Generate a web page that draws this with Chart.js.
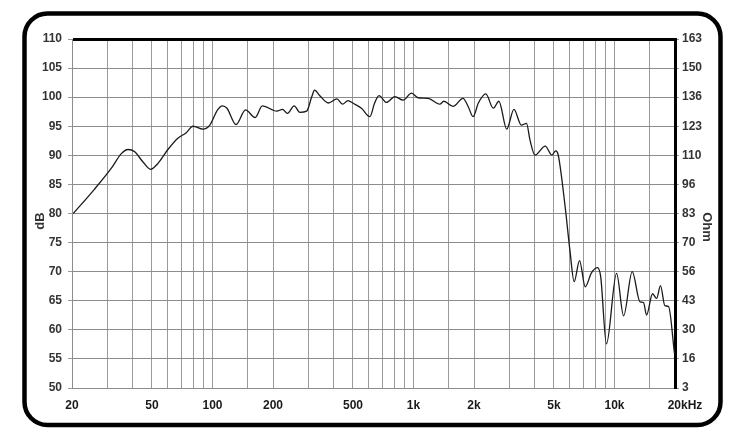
<!DOCTYPE html>
<html>
<head>
<meta charset="utf-8">
<script src="https://cdn.jsdelivr.net/npm/chart.js@4/dist/chart.umd.min.js"></script>
<style>
  html, body { margin: 0; padding: 0; background: #fff; }
  #wrap { width: 747px; height: 445px; position: relative; }
</style>
</head>
<body>
<div id="wrap"><canvas id="frChart"></canvas></div>
<script>
// ===== DATOS =====
const freqHz = [20.3, 25.9, 31.4, 35.2, 38, 41, 45, 49.2, 53.5, 60, 67, 74, 80, 89.6, 97, 106, 112, 118, 131, 146,
  163, 177, 209, 223, 236, 255, 272, 294, 312, 322, 342, 377, 416, 444, 472, 501, 551, 607, 640, 674,
  734, 808, 888, 978, 1054, 1182, 1352, 1415, 1572, 1764, 1870, 1980, 2100, 2290, 2495, 2660, 2910, 3160,
  3440, 3650, 3800, 4020, 4520, 4880, 5100, 5250, 5680, 6000, 6300, 6700, 7150, 7680, 8230, 8540, 9120,
  10240, 11100, 12250, 13400, 13940, 14440, 15460, 16200, 16940, 17800, 18580, 19870];
const splDb = [80.0, 84.2, 87.8, 90.3, 91.0, 90.6, 88.9, 87.6, 88.6, 91.0, 92.9, 93.9, 95.0, 94.5, 95.2, 97.8, 98.5, 98.1, 95.3, 97.8,
  96.5, 98.5, 97.6, 97.9, 97.2, 98.5, 97.4, 97.6, 100.1, 101.2, 100.25, 99.0, 99.7, 98.8, 99.4, 98.95, 98.1, 96.65, 98.95, 100.25,
  99.1, 100.1, 99.5, 100.7, 99.9, 99.8, 98.8, 99.3, 98.4, 99.8, 98.4, 96.65, 98.95, 100.55, 98.1, 99.3, 94.5, 97.9,
  95.2, 95.5, 92.6, 90.05, 91.6, 90.05, 90.75, 90.05, 81.2, 73.7, 68.3, 71.9, 67.4, 69.8, 70.7, 69.1, 57.6,
  69.7, 62.4, 70.0, 64.8, 64.7, 62.55, 66.2, 65.4, 67.6, 64.15, 64.0, 56.0];

// rejilla vertical y etiquetas del eje X
const xGridHz = [20, 30, 40, 50, 60, 70, 80, 90, 100, 150, 200, 300, 400, 500, 600, 700, 800, 900, 1000,
  1500, 2000, 3000, 4000, 5000, 6000, 7000, 8000, 9000, 10000, 15000, 20000];
const xLabelHz = [20, 50, 100, 200, 500, 1000, 2000, 5000, 10000, 20000];
const xLabelText = ['20', '50', '100', '200', '500', '1k', '2k', '5k', '10k', '20kHz'];

// eje derecho (impedancia)
const ohmLabels = ['3', '16', '30', '43', '56', '70', '83', '96', '110', '123', '136', '150', '163'];

const labelFont = "'Liberation Sans', Arial, sans-serif";

/* ===== MARCO REDONDEADO Y TÍTULOS DE EJE ===== */
const framePlugin = {
  id: 'frame',
  afterDraw(chart) {
    const c = chart.ctx;
    c.save();
    c.strokeStyle = '#000';
    c.lineWidth = 4.5;
    c.beginPath();
    c.roundRect(24.5, 13.5, 696, 411.5, 23);
    c.stroke();

    c.fillStyle = '#333';
    c.font = 'bold 13px ' + labelFont;
    c.textAlign = 'center';
    c.textBaseline = 'middle';
    // dB (izquierda, de abajo hacia arriba)
    c.save();
    c.translate(40, 221);
    c.rotate(-Math.PI / 2);
    c.fillText('dB', 0, 0);
    c.restore();
    // Ohm (derecha, de arriba hacia abajo)
    c.save();
    c.translate(707, 227);
    c.rotate(Math.PI / 2);
    c.fillText('Ohm', 0, 0);
    c.restore();
    c.restore();
  }
};

function createChart() {
  const ctx = document.getElementById('frChart').getContext('2d');
  const points = freqHz.map((f, i) => ({ x: f, y: splDb[i] }));

  new Chart(ctx, {
    type: 'line',
    data: {
      datasets: [{
        label: 'SPL',
        data: points,
        borderColor: '#1a1a1a',
        borderWidth: 1.3,
        pointRadius: 0,
        fill: false,
        cubicInterpolationMode: 'monotone',
        xAxisID: 'x',
        yAxisID: 'y'
      }]
    },
    options: {
      responsive: true,
      maintainAspectRatio: false,
      animation: false,
      devicePixelRatio: 1,
      layout: { padding: { top: 39, left: 0, right: 0, bottom: 0 } },
      plugins: {
        legend: { display: false },
        title: { display: false },
        tooltip: { enabled: false }
      },
      scales: {
        x: {
          type: 'logarithmic',
          min: 20,
          max: 20000,
          afterBuildTicks: function(scale) {
            scale.ticks = xGridHz.map(v => ({ value: v }));
          },
          afterFit: function(scale) { scale.height = 57; },
          ticks: {
            autoSkip: false,
            maxRotation: 0,
            padding: 10,
            color: '#1a1a1a',
            font: { family: labelFont, size: 12, weight: 'bold' },
            callback: function(value) {
              const idx = xLabelHz.indexOf(value);
              if (idx < 0) return '';
              return idx === xLabelHz.length - 1 ? '      ' + xLabelText[idx] : xLabelText[idx];
            }
          },
          grid: {
            color: '#9a9a9a',
            lineWidth: 1,
            drawTicks: false
          },
          border: { display: true, color: '#8c8c8c', width: 1 }
        },
        y: {
          type: 'linear',
          position: 'left',
          min: 50,
          max: 110,
          afterFit: function(scale) { scale.width = 72; },
          ticks: {
            stepSize: 5,
            padding: 6,
            color: '#333',
            font: { family: labelFont, size: 12, weight: 'bold' }
          },
          grid: {
            color: function(c) { return c.tick && c.tick.value === 110 ? '#000' : '#8c8c8c'; },
            lineWidth: function(c) { return c.tick && c.tick.value === 110 ? 3 : 1; },
            tickLength: 4,
            tickColor: '#999',
            tickWidth: 1
          },
          border: { display: true, color: '#8c8c8c', width: 1 }
        },
        y2: {
          type: 'linear',
          position: 'right',
          min: 3,
          max: 163,
          afterBuildTicks: function(scale) {
            const step = (scale.max - scale.min) / (ohmLabels.length - 1);
            scale.ticks = ohmLabels.map((_, i) => ({ value: scale.min + i * step }));
          },
          afterFit: function(scale) { scale.width = 72; },
          ticks: {
            padding: 3,
            color: '#333',
            font: { family: labelFont, size: 12, weight: 'bold' },
            callback: function(value, index) { return ohmLabels[index]; }
          },
          grid: {
            drawOnChartArea: false,
            tickLength: 4,
            color: '#999'
          },
          border: { display: true, color: '#000', width: 3 }
        }
      }
    },
    plugins: [framePlugin]
  });
}

document.addEventListener('DOMContentLoaded', createChart);
</script>
</body>
</html>
